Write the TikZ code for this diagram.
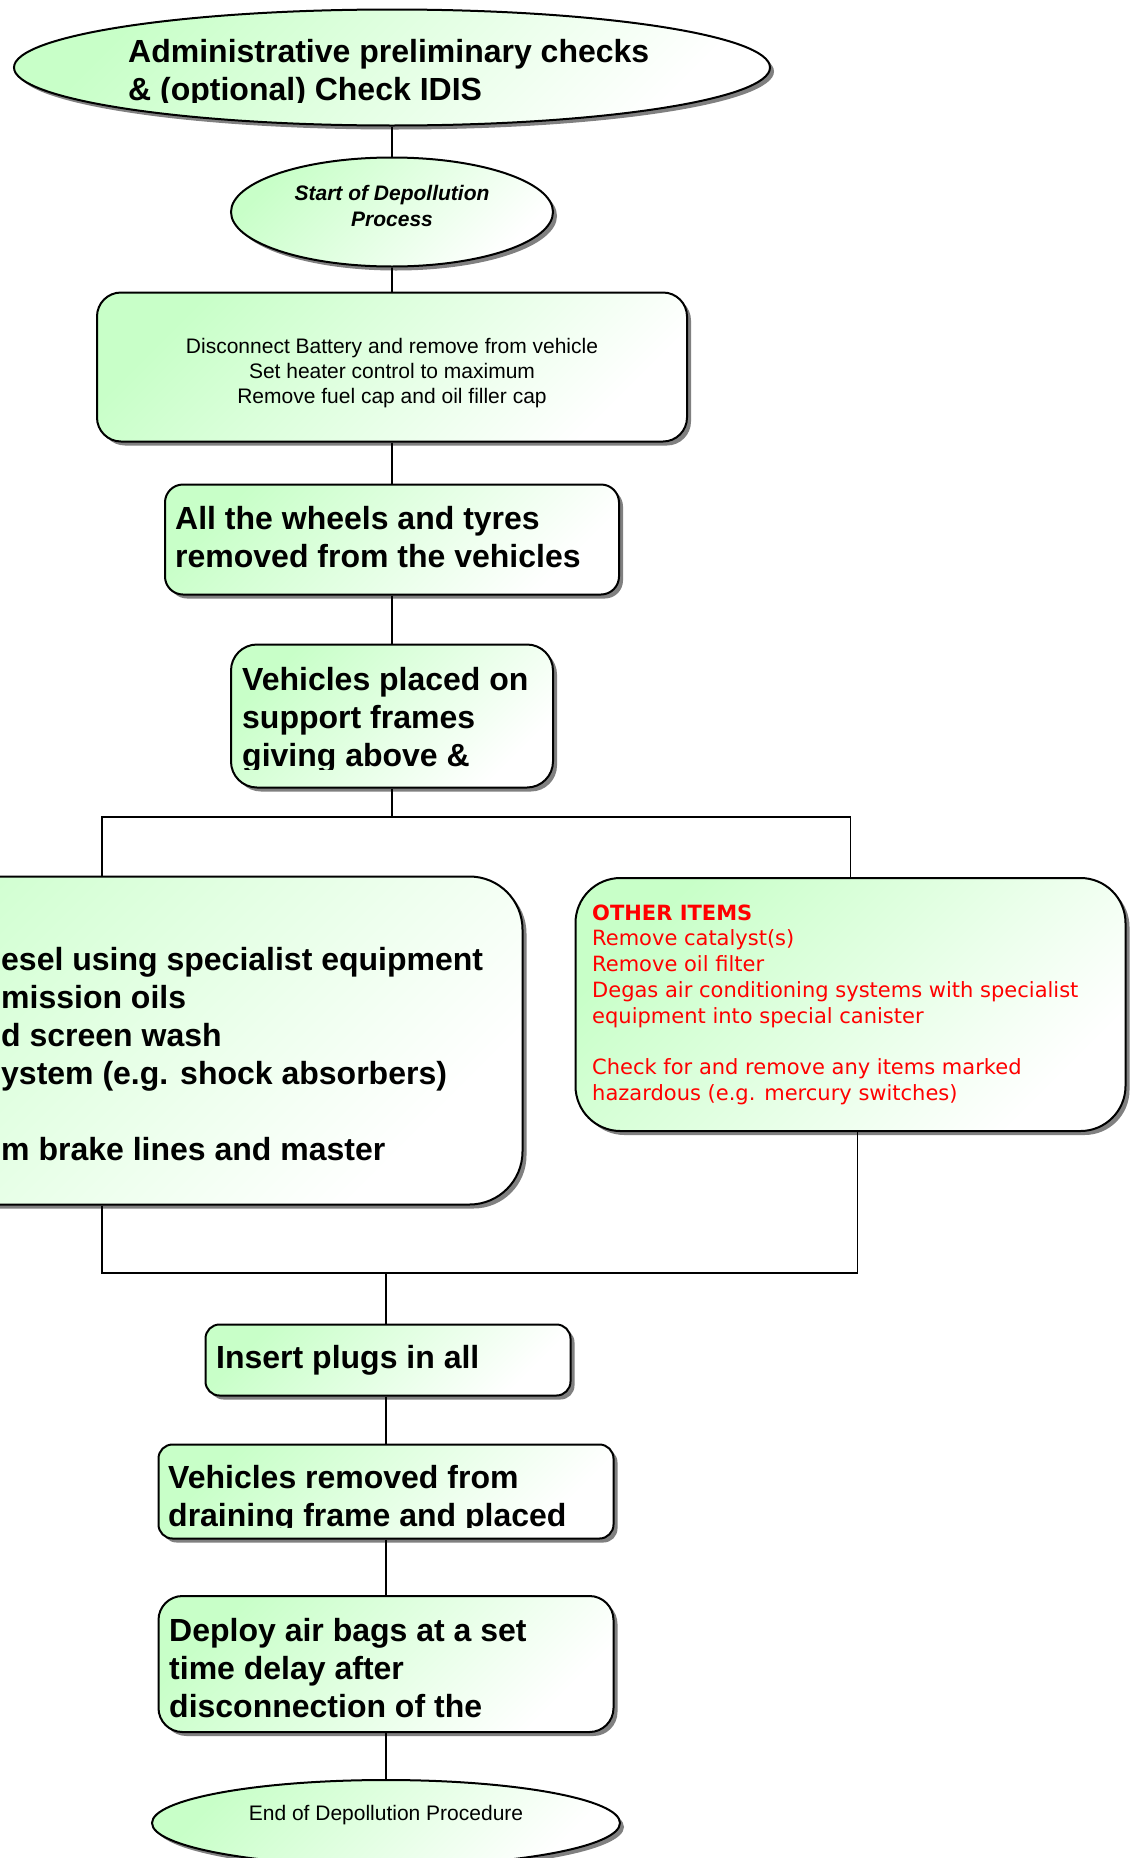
\documentclass[tikz,border=0pt]{standalone}
\usepackage{fontspec}
\setmainfont{Liberation Sans}
\newfontfamily\itemfont{DejaVu Sans}
\usetikzlibrary{positioning,shapes.geometric,shadows}

\definecolor{stepgreen}{RGB}{200,255,200}
\definecolor{itemred}{RGB}{255,0,0}
\definecolor{shadowgrey}{RGB}{128,128,128}

\begin{document}
\begin{tikzpicture}[
    x=1pt, y=-1pt,
    greenfill/.style={shading=axis, top color=stepgreen, bottom color=white, shading angle=45},
    boxshadow/.style={drop shadow={shadow xshift=4pt, shadow yshift=-4pt, fill=shadowgrey, opacity=1}},
    stepbox/.style={draw, line width=2pt, rounded corners=#1, inner sep=0pt, greenfill, boxshadow},
    stepbox/.default=18pt,
    terminal/.style={ellipse, draw, line width=2pt, inner sep=0pt, greenfill, boxshadow},
    bigtxt/.style={anchor=base west, inner sep=0pt, align=left, font=\fontsize{32}{38}\selectfont\bfseries},
    smalltxt/.style={anchor=base, inner sep=0pt, align=center, font=\fontsize{21}{25}\selectfont},
    redtxt/.style={anchor=base west, inner sep=0pt, align=left, text=itemred, font=\itemfont\fontsize{21}{25.8}\selectfont},
    link/.style={line width=1.3pt},
]
\useasboundingbox (0,0) rectangle (1136,1858);

% Administrative checks (text placed at its last baseline)
\node[terminal, minimum width=756pt, minimum height=116pt] (admin) at (392,67.5) {};
\begin{scope}
  \clip (0,0) rectangle (1136,102);
  \node[bigtxt] (admin-txt) at (128,100.5) {Administrative preliminary checks\\\& (optional) Check IDIS};
\end{scope}

% Start of process
\node[terminal, minimum width=322pt, minimum height=109pt] (start) at (392,212) {};
\node[smalltxt, font=\fontsize{21}{26}\selectfont\bfseries\itshape] (start-txt) at (392,226) {Start of Depollution\\Process};

% Battery
\node[stepbox=24pt, minimum width=590pt, minimum height=149pt] (battery) at (392,367) {};
\node[smalltxt] (battery-txt) at (392,403) {Disconnect Battery and remove from vehicle\\Set heater control to maximum\\Remove fuel cap and oil filler cap};

% Wheels
\node[stepbox=18pt, minimum width=454pt, minimum height=110pt] (wheels) at (392,539.5) {};
\node[bigtxt] (wheels-txt) at (175,567.6) {All the wheels and tyres\\removed from the vehicles};

% Support frames
\node[stepbox=26pt, minimum width=322pt, minimum height=143pt] (frames) at (392,716) {};
\begin{scope}
  \clip (0,0) rectangle (1136,769.5);
  \node[bigtxt] (frames-txt) at (242,766.6) {Vehicles placed on\\support frames\\giving above \&};
\end{scope}

% Draining
\node[stepbox=53pt, minimum width=841pt, minimum height=328pt] (drain) at (102,1040.5) {};
\node[bigtxt] (drain-txt) at (1,1160) {esel using specialist equipment\\mission oils\\d screen wash\\ystem (e.g. shock absorbers)\\[38pt]m brake lines and master};

% Other items
\node[stepbox=45pt, minimum width=550pt, minimum height=253pt] (other) at (850.5,1004.5) {};
\node[redtxt] (other-txt) at (592,1100.6) {\textbf{OTHER ITEMS}\\Remove catalyst(s)\\Remove oil filter\\Degas air conditioning systems with specialist\\equipment into special canister\\[25.8pt]Check for and remove any items marked\\hazardous (e.g. mercury switches)};

% Plugs
\node[stepbox=14pt, minimum width=365pt, minimum height=71pt] (plugs) at (388,1360) {};
\begin{scope}
  \clip (0,0) rectangle (1136,1385);
  \node[bigtxt] (plugs-txt) at (216,1368) {Insert plugs in all};
\end{scope}

% Removed from frame
\node[stepbox=14pt, minimum width=455pt, minimum height=94pt] (removed) at (386,1491.5) {};
\begin{scope}
  \clip (0,0) rectangle (1136,1527);
  \node[bigtxt] (removed-txt) at (168,1526.5) {Vehicles removed from\\draining frame and placed};
\end{scope}

% Air bags
\node[stepbox=24pt, minimum width=455pt, minimum height=136pt] (airbags) at (386,1664) {};
\begin{scope}
  \clip (0,0) rectangle (1136,1717.5);
  \node[bigtxt] (airbags-txt) at (169,1717.5) {Deploy air bags at a set\\time delay after\\disconnection of the};
\end{scope}

% End
\node[terminal, minimum width=468pt, minimum height=86pt] (finish) at (386,1823) {};
\node[smalltxt] (finish-txt) at (386,1820) {End of Depollution Procedure};

% Connectors
\coordinate (split) at (392,817);
\coordinate (merge) at (386,1273);
\draw[link] (admin.south) -- (start.north);
\draw[link] (start.south) -- (battery.north);
\draw[link] (battery.south) -- (wheels.north);
\draw[link] (wheels.south) -- (frames.north);
\draw[link] (frames.south) -- (split);
\draw[link] (split) -| (drain.north);
\draw[link] (split) -| (other.north);
\draw[link] (drain.south) |- (merge);
\draw[link] ([xshift=7pt]other.south) |- (merge);
\draw[link] (merge) -- (merge |- plugs.north);
\draw[link] (merge |- plugs.south) -- (removed.north);
\draw[link] (removed.south) -- (airbags.north);
\draw[link] (airbags.south) -- (finish.north);
\end{tikzpicture}
\end{document}
